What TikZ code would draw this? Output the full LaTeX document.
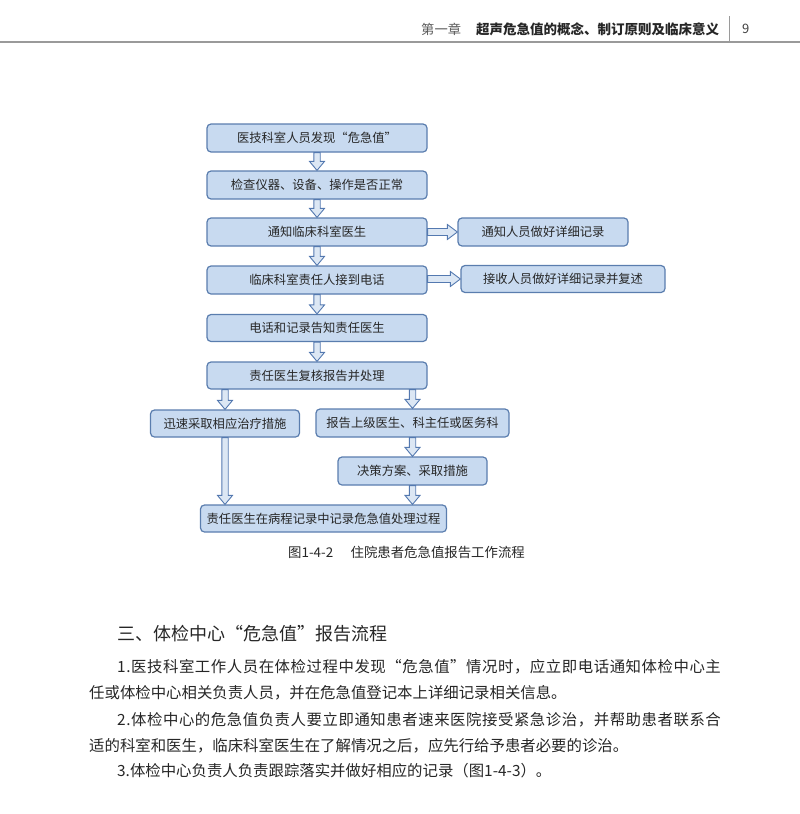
\documentclass[tikz,border=0pt]{standalone}
\usepackage{fontspec}
\setmainfont{Noto Sans CJK SC}
\usetikzlibrary{calc}
\definecolor{boxfill}{HTML}{C8DAF0}
\definecolor{boxdraw}{HTML}{5A7DAE}
\definecolor{arrfill}{HTML}{DCE7F4}
\definecolor{arrdraw}{HTML}{5479B0}
\definecolor{txt}{HTML}{262626}
\definecolor{rule}{HTML}{9A9A9A}
\newcommand\varrow[2]{\path[barrow] let \p1=(#1), \p2=(#2) in
  (\x2-3.2pt,\y1) -- (\x2-3.2pt,\y2+9pt) -- (\x2-7.5pt,\y2+9pt) -- (\x2,\y2)
  -- (\x2+7.5pt,\y2+9pt) -- (\x2+3.2pt,\y2+9pt) -- (\x2+3.2pt,\y1) -- cycle;}
\newcommand\harrow[2]{\path[barrow] let \p1=(#1), \p2=(#2) in
  (\x1,\y2+3.5pt) -- (\x2-10pt,\y2+3.5pt) -- (\x2-10pt,\y2+7.5pt) -- (\x2,\y2)
  -- (\x2-10pt,\y2-7.5pt) -- (\x2-10pt,\y2-3.5pt) -- (\x1,\y2-3.5pt) -- cycle;}
\newcommand\fullline[1]{\hbox to 605pt{\addfontfeature{LetterSpace=3.6}#1\hfil}}
\begin{document}
\begin{tikzpicture}[x=1pt,y=-1pt,
  box/.style={draw=boxdraw, fill=boxfill, line width=1.2pt, rounded corners=4pt,
    inner sep=0pt, font=\fontsize{12.3}{14}\selectfont, text=txt},
  barrow/.style={draw=arrdraw, fill=arrfill, line width=0.9pt, line join=miter},
  para/.style={anchor=west, inner sep=0pt, text=txt, font=\fontsize{15.4}{18}\selectfont}]
\useasboundingbox (0,0) rectangle (800,814);
% header
\draw[rule, line width=1.6pt] (0,42) -- (800,42);
\draw[rule, line width=0.8pt] (729,16) -- (729,42);
\node[anchor=west, inner sep=0pt, text=black!65, font=\fontsize{13.3}{15}\selectfont] (hch) at (421,29) {第一章};
\node[anchor=west, inner sep=0pt, text=black!85, font=\fontsize{13.5}{15}\selectfont\bfseries] (htitle) at (476,29) {超声危急值的概念、制订原则及临床意义};
\node[anchor=west, inner sep=0pt, text=black!75, font=\fontsize{13}{15}\selectfont] (hpage) at (742,29) {9};
% flowchart boxes
\node[box, minimum width=220pt, minimum height=28pt] (b1) at (317,138) {医技科室人员发现“危急值”};
\node[box, minimum width=220pt, minimum height=28pt] (b2) at (317,185) {检查仪器、设备、操作是否正常};
\node[box, minimum width=220pt, minimum height=28pt] (b3) at (317,232) {通知临床科室医生};
\node[box, minimum width=220pt, minimum height=28pt] (b4) at (317,280) {临床科室责任人接到电话};
\node[box, minimum width=220pt, minimum height=27pt] (b5) at (317,328) {电话和记录告知责任医生};
\node[box, minimum width=220pt, minimum height=27pt] (b6) at (317,375.5) {责任医生复核报告并处理};
\node[box, minimum width=170pt, minimum height=28pt] (r1) at (543,232) {通知人员做好详细记录};
\node[box, minimum width=204pt, minimum height=27pt] (r2) at (563,279) {接收人员做好详细记录并复述};
\node[box, minimum width=149pt, minimum height=27pt] (l1) at (225,423.5) {迅速采取相应治疗措施};
\node[box, minimum width=193pt, minimum height=28pt] (m1) at (412.5,423) {报告上级医生、科主任或医务科};
\node[box, minimum width=149pt, minimum height=28pt] (m2) at (412.5,471) {决策方案、采取措施};
\node[box, minimum width=246pt, minimum height=27pt] (bot) at (323.5,518.5) {责任医生在病程记录中记录危急值处理过程};
% block arrows
\varrow{b1.south}{b2.north}
\varrow{b2.south}{b3.north}
\varrow{b3.south}{b4.north}
\varrow{b4.south}{b5.north}
\varrow{b5.south}{b6.north}
\varrow{b6.south}{l1.north}
\varrow{b6.south}{m1.north}
\varrow{m1.south}{m2.north}
\varrow{m2.south}{bot.north -| m2.south}
\varrow{l1.south}{bot.north -| l1.south}
\harrow{b3.east}{r1.west}
\harrow{b4.east}{r2.west}
% caption
\node[anchor=west, inner sep=0pt, text=black!85, font=\fontsize{13.4}{15}\selectfont] (cap) at (288,552) {图1-4-2\hspace{1.3em}住院患者危急值报告工作流程};
% section heading and text
\node[anchor=west, inner sep=0pt, text=txt, font=\fontsize{18}{22}\selectfont] (sec) at (117,634) {三、体检中心“危急值”报告流程};
\node[para] (p1) at (117,667) {\fullline{1.医技科室工作人员在体检过程中发现“危急值”情况时，应立即电话通知体检中心主}};
\node[para] (p2) at (89,693) {任或体检中心相关负责人员，并在危急值登记本上详细记录相关信息。};
\node[para] (p3) at (117,720) {\fullline{2.体检中心的危急值负责人要立即通知患者速来医院接受紧急诊治，并帮助患者联系合}};
\node[para] (p4) at (89,746) {适的科室和医生，临床科室医生在了解情况之后，应先行给予患者必要的诊治。};
\node[para] (p5) at (117,771) {3.体检中心负责人负责跟踪落实并做好相应的记录（图1-4-3）。};
\end{tikzpicture}
\end{document}
